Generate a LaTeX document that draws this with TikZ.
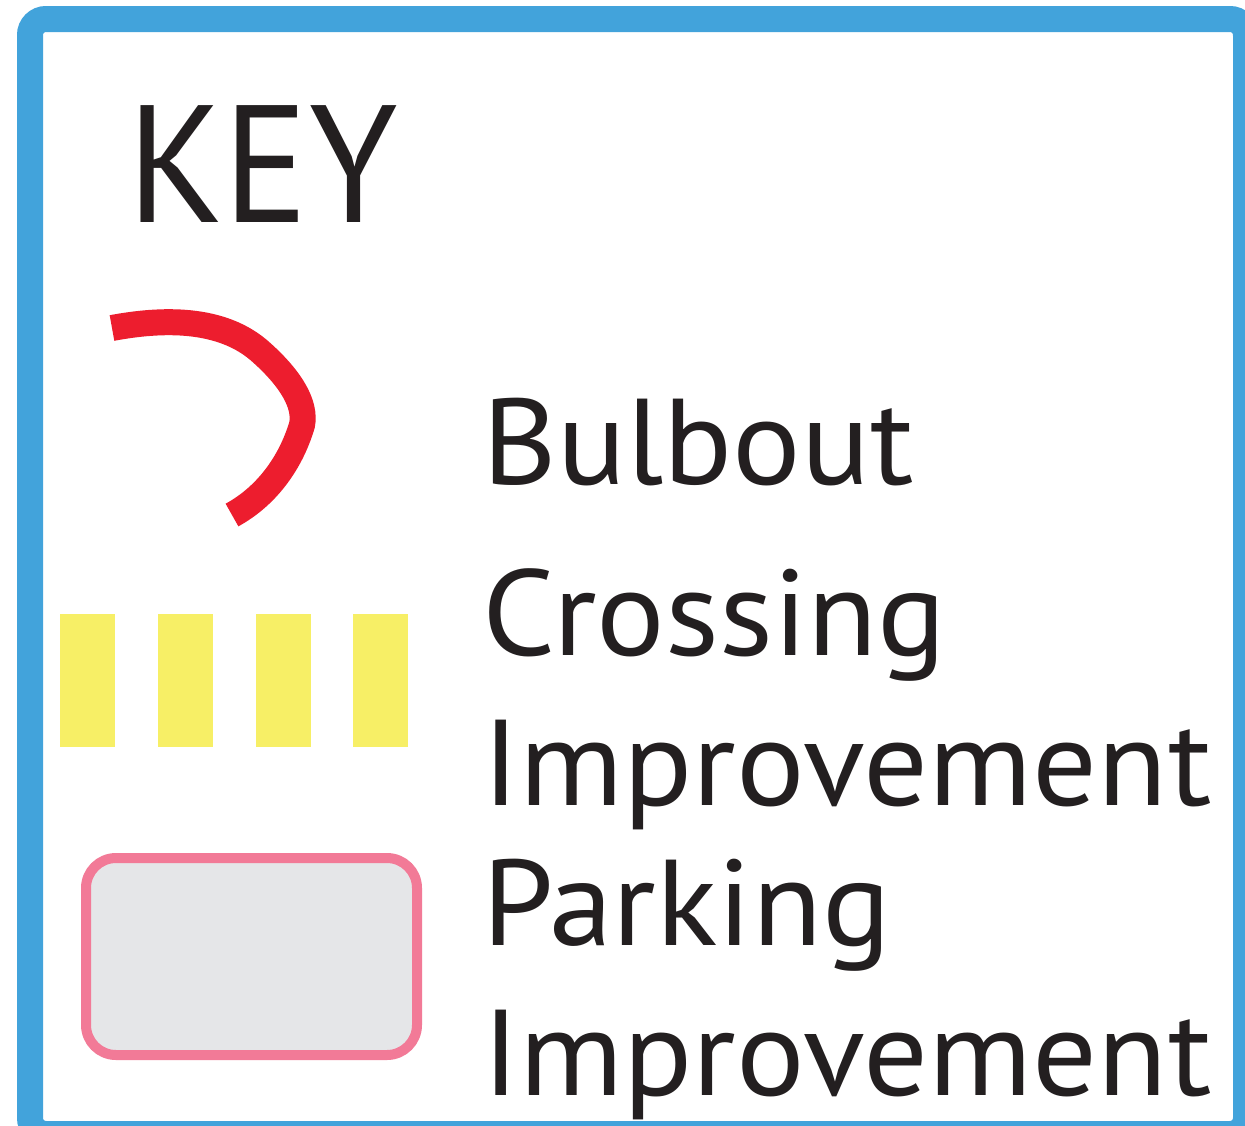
\documentclass[tikz,border=0pt]{standalone}
\usepackage{fontspec}
\setmainfont{PT Sans}
\newfontfamily\labelfont[FakeStretch=1.05]{PT Sans}
\newfontfamily\titlefont[FakeStretch=0.95]{PT Sans}
\definecolor{keyblue}{RGB}{66,163,219}
\definecolor{bulbred}{RGB}{237,29,46}
\definecolor{crossyellow}{RGB}{247,239,102}
\definecolor{parkpink}{RGB}{242,122,151}
\definecolor{parkgray}{RGB}{229,230,232}
\definecolor{keyblack}{RGB}{35,31,32}
\begin{document}
\begin{tikzpicture}[x=1pt,y=-1pt,
        keytext/.style={anchor=base west,inner sep=0pt,text=keyblack,font=\labelfont\fontsize{122}{122}\selectfont},
        keytitle/.style={keytext,font=\titlefont\fontsize{167}{167}\selectfont}]
            \useasboundingbox (0,0) rectangle (1245,1125);
            \fill[white] (0,0) rectangle (1245,1125);
            \begin{scope}
                \clip (0,0) rectangle (1245,1125);
                \draw[keyblue,line width=26pt,rounded corners=16pt] (30,19) rectangle (1246,1134);
            \end{scope}
            \node[keytitle] (key) at (127,222) {KEY};
            % bulbout
            \draw[bulbred,line width=26pt] (112,328) .. controls (160,319) and (222,316) .. (262,353)
                .. controls (292,380) and (306,405) .. (302,425)
                .. controls (290,465) and (265,497) .. (232,515);
            % crossing bars
            \foreach \x in {60,158,256,353}
                \fill[crossyellow] (\x,614) rectangle ++(55,133);
            % parking
            \draw[parkpink,fill=parkgray,line width=10pt,rounded corners=30pt] (86,858) rectangle (417,1055);
            \node[keytext] (bulbout) at (482,484) {Bulbout};
            \node[keytext] (crossing) at (482,655) {Crossing};
            \node[keytext] (crossimp) at (482,805) {Improvement};
            \node[keytext] (parking) at (482,945) {Parking};
            \node[keytext] (parkimp) at (482,1095) {Improvement};
        \end{tikzpicture}
\end{document}
